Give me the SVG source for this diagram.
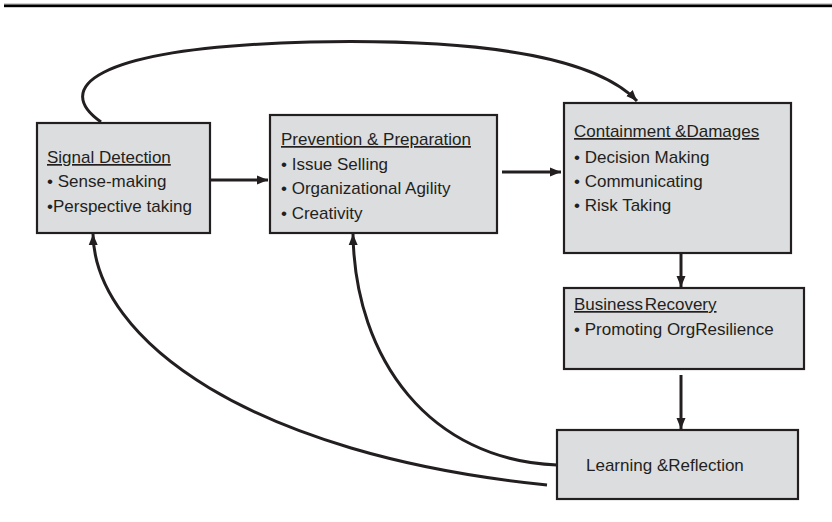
<svg xmlns="http://www.w3.org/2000/svg" width="832" height="522" viewBox="0 0 832 522">
  <style>
    .box { fill: #dcdddf; stroke: #231f20; stroke-width: 2.2; }
    .txt { font-family: "Liberation Sans", Arial, sans-serif; font-size: 17px; fill: #231f20; }
    .head { text-decoration: underline; }
    .conn { fill: none; stroke: #231f20; stroke-width: 3; }
  </style>
  <defs>
    <marker id="arrow" markerUnits="userSpaceOnUse" markerWidth="12" markerHeight="12" viewBox="0 0 12 12" refX="11" refY="6" orient="auto">
      <path d="M0,1.5 L11,6 L0,10.5 Z" fill="#231f20"/>
    </marker>
  </defs>

  <rect x="0" y="0" width="832" height="522" fill="#ffffff"/>
  <!-- header rule -->
  <rect x="4" y="3.6" width="828" height="1" fill="#8a8a8a"/>
  <rect x="4" y="4.6" width="828" height="2.6" fill="#000000"/>

  <!-- connectors -->
  <g id="connectors">
    <line class="conn" x1="211" y1="180" x2="268" y2="180" marker-end="url(#arrow)"/>
    <line class="conn" x1="502" y1="172" x2="561" y2="172" marker-end="url(#arrow)"/>
    <line class="conn" x1="681" y1="254" x2="681" y2="287" marker-end="url(#arrow)"/>
    <line class="conn" x1="681" y1="375" x2="681" y2="429" marker-end="url(#arrow)"/>
    <path class="conn" d="M101,122 C55,90 85,48 310,42 C500,38 600,62 637,101" marker-end="url(#arrow)"/>
    <path class="conn" d="M557,465 C430,460 355,360 353,234" marker-end="url(#arrow)"/>
    <path class="conn" d="M547,485 C250,455 95,340 93,234" marker-end="url(#arrow)"/>
  </g>

  <g id="signal-detection">
    <rect class="box" x="37" y="123" width="173" height="110"/>
    <text class="txt head" x="47" y="163">Signal Detection</text>
    <text class="txt" x="47" y="187">• Sense-making</text>
    <text class="txt" x="47" y="212">•Perspective taking</text>
  </g>

  <g id="prevention-preparation">
    <rect class="box" x="270" y="115" width="227" height="118"/>
    <text class="txt head" x="281" y="145">Prevention &amp; Preparation</text>
    <text class="txt" x="281" y="170">• Issue Selling</text>
    <text class="txt" x="281" y="194">• Organizational Agility</text>
    <text class="txt" x="281" y="219">• Creativity</text>
  </g>

  <g id="containment-damages">
    <rect class="box" x="564" y="103" width="227" height="150"/>
    <text class="txt head" x="574" y="137">Containment &amp;Damages</text>
    <text class="txt" x="574" y="163">• Decision Making</text>
    <text class="txt" x="574" y="187">• Communicating</text>
    <text class="txt" x="574" y="211">• Risk Taking</text>
  </g>

  <g id="business-recovery">
    <rect class="box" x="564" y="288" width="240" height="81"/>
    <text class="txt head" x="574" y="310" word-spacing="-3">Business Recovery</text>
    <text class="txt" x="574" y="335">• Promoting OrgResilience</text>
  </g>

  <g id="learning-reflection">
    <rect class="box" x="557" y="430" width="241" height="69"/>
    <text class="txt" x="586" y="471">Learning &amp;Reflection</text>
  </g>
</svg>
